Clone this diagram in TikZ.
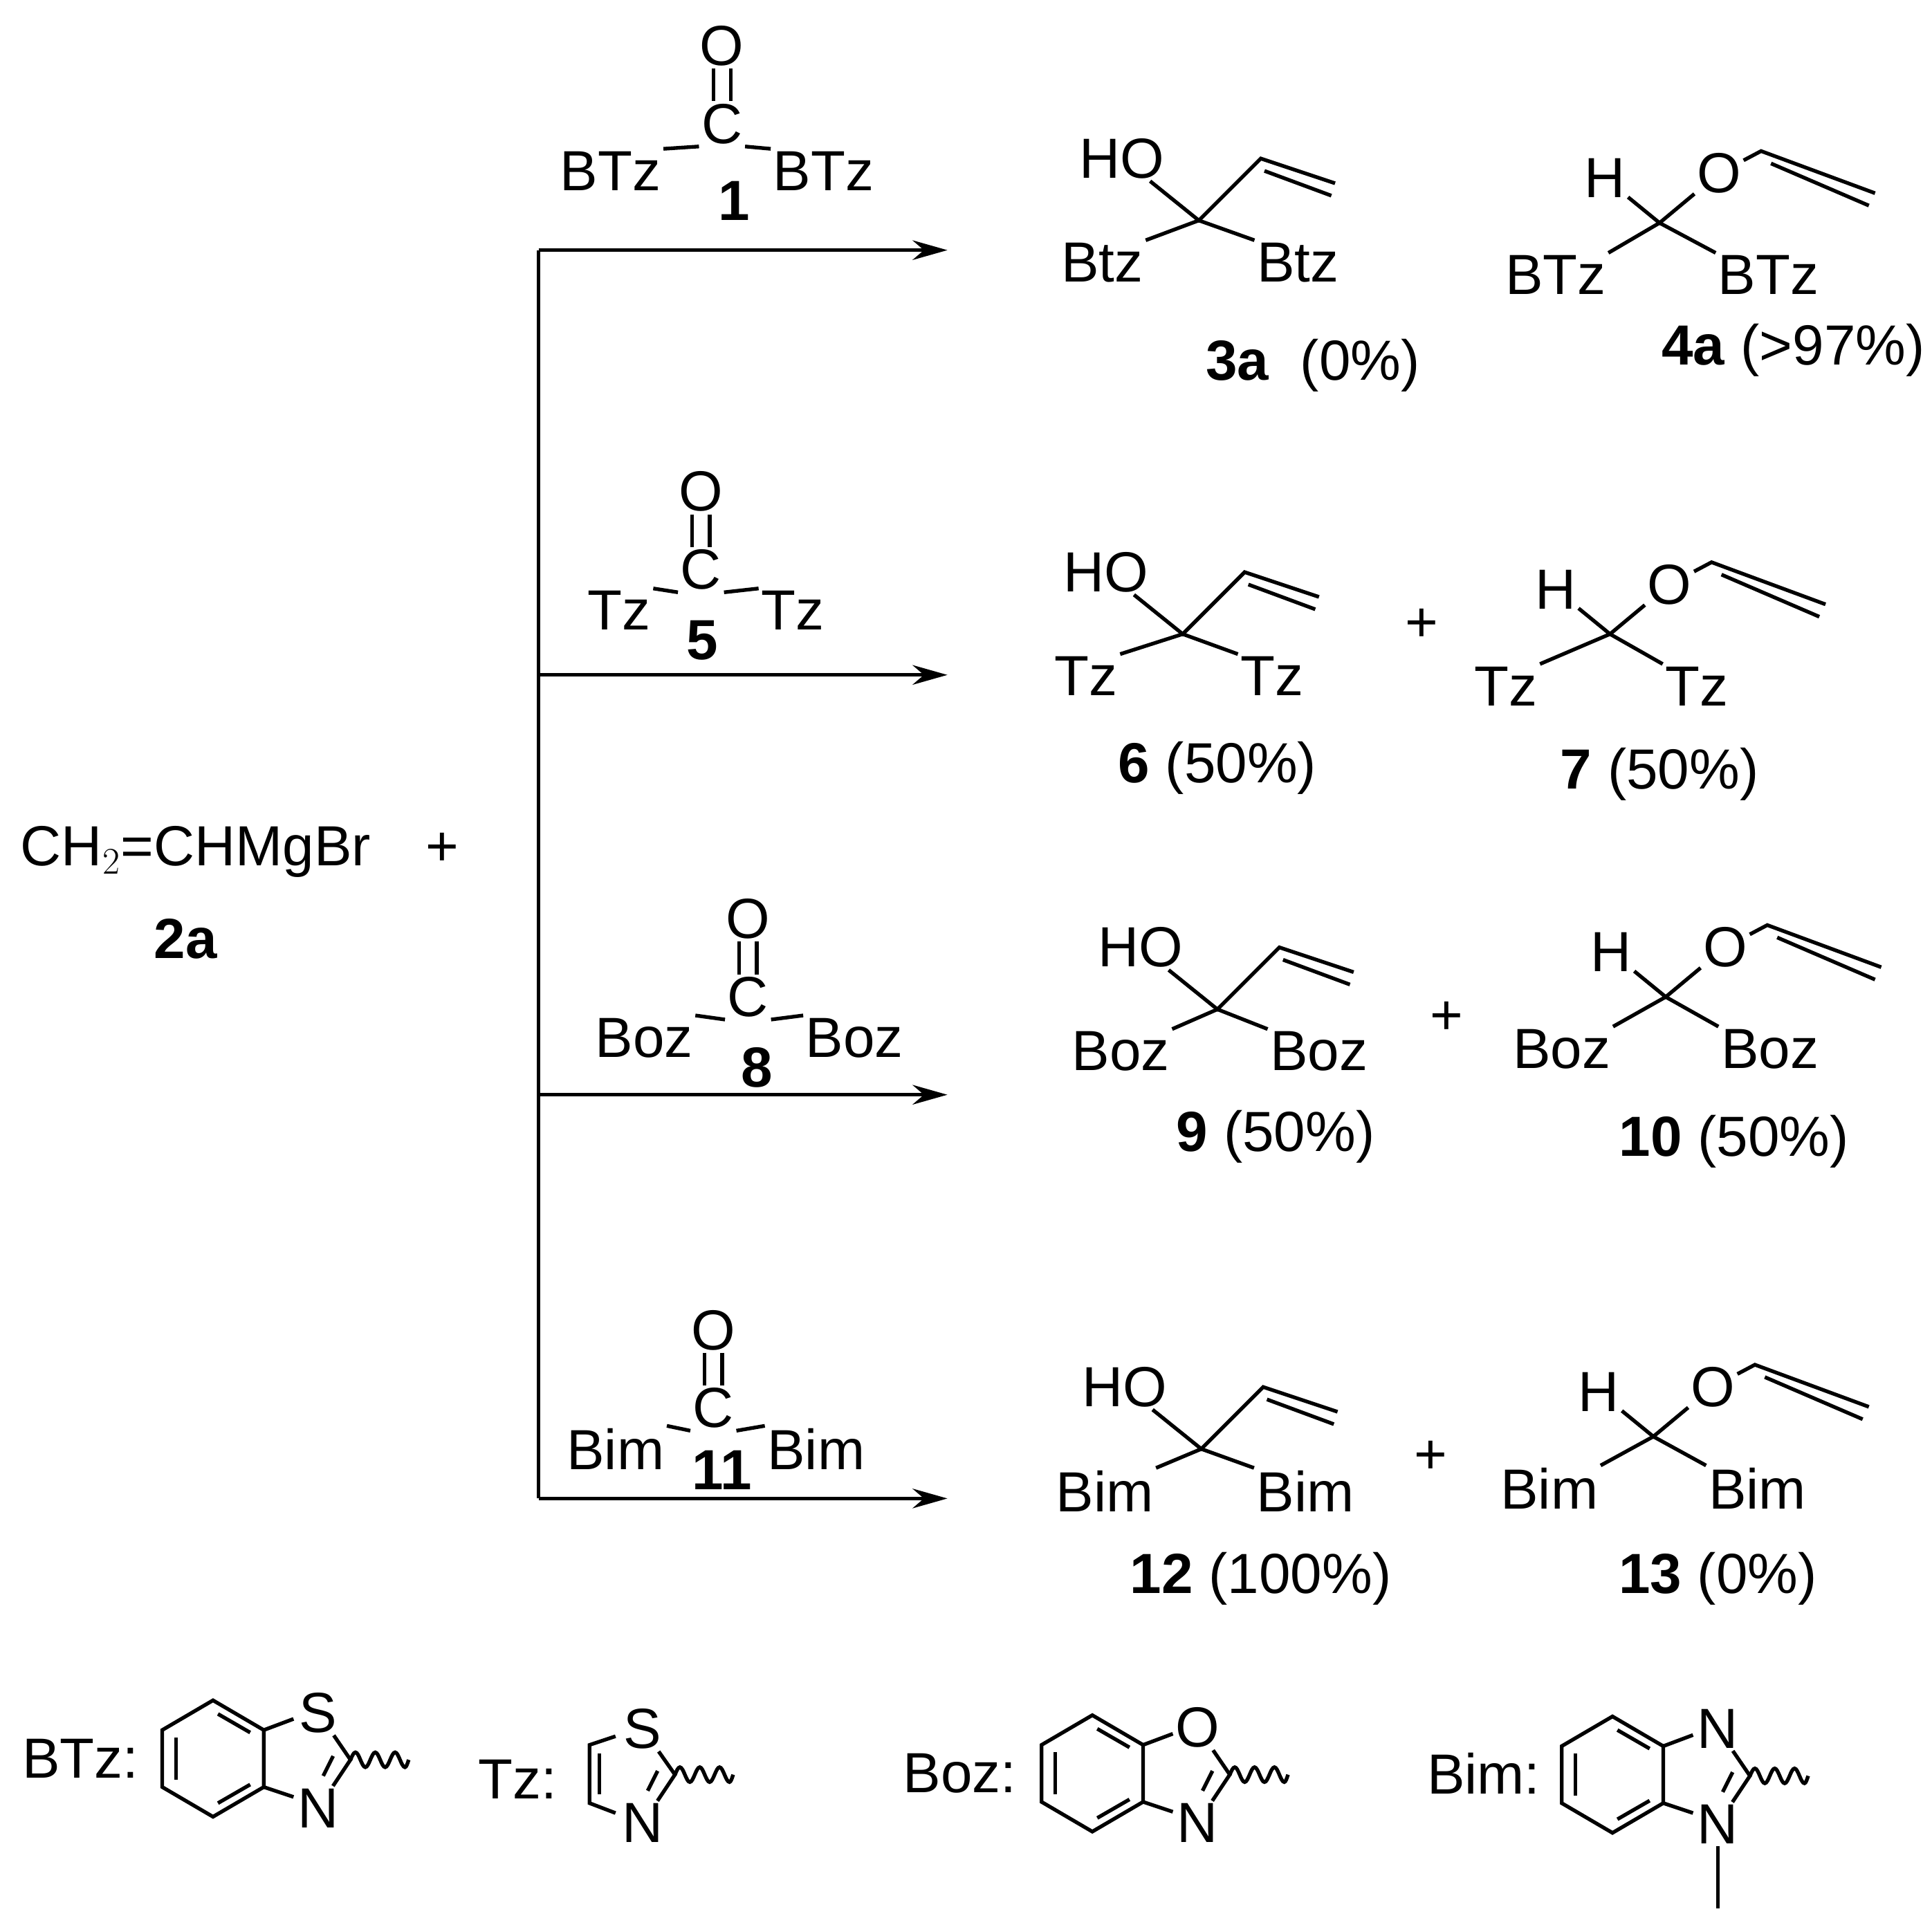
\documentclass[tikz,border=0pt]{standalone}
\usepackage{fontspec}
\setmainfont{Liberation Sans}
\usetikzlibrary{arrows.meta}
\tikzset{
 lbl/.style={inner sep=1pt,font=\fontsize{26}{30}\selectfont},
 bd/.style={line width=1.7pt},
 rxn/.style={line width=1.7pt,-{Stealth[length=16pt,width=9pt]}},
}
\newcommand{\wavy}[1]{\draw[bd] (#1) sin ++(4,-6) cos ++(4,6) sin ++(4,6) cos ++(4,-6) sin ++(4,-6) cos ++(4,6) sin ++(4,6) cos ++(4,-6) sin ++(4,-6) cos ++(4,6) sin ++(4,6) cos ++(3,-6);}
% fused benzazole, origin = benzene centre
\newcommand{\benzaz}[4]{%
 \begin{scope}[shift={(#1)}]
 \draw[bd] (0,-47)--(-41,-23)--(-41,23)--(0,47)--(41,23)--(41,-23)--cycle;
 \draw[bd] (-30,-17)--(-30,17);
 \draw[bd] (4,-36)--(30,-21);
 \draw[bd] (4,36)--(30,21);
 \node[lbl] (#2t) at (85,-37) {#3};
 \node[lbl] (#2b) at (85,40) {#4};
 \coordinate (#2c) at (111,1);
 \draw[bd] (41,-23)--(65,-32);
 \draw[bd] (41,23)--(65,31);
 \draw[bd] (#2t) -- (#2c) -- (#2b);
 \draw[bd] (97,-2)--(89,14);
 \wavy{#2c}
 \end{scope}}
% reagent
\newcommand{\reag}[9]{% pos, name, label, Lx, Ly, Rx, number, nx, ny
 \begin{scope}[shift={(#1)}]
 \node[lbl] (#2C) at (0,0) {C};
 \node[lbl] (#2O) at (0,-63) {O};
 \draw[bd] ([xshift=-4]#2O.south) -- ([xshift=-4]#2C.north);
 \draw[bd] ([xshift=4]#2O.south) -- ([xshift=4]#2C.north);
 \node[lbl] (#2L) at (#4,#5) {#3};
 \node[lbl] (#2R) at (#6,#5) {#3};
 \node[lbl] (#2n) at (#8,#9) {\textbf{#7}};
 \draw[bd] (#2C.south west) -- (#2L.north east);
 \draw[bd] (#2C.south east) -- (#2R.north west);
 \end{scope}}
% alcohol product
\newcommand{\prodA}[4]{% pos, name, group, Rx
 \begin{scope}[shift={(#1)}]
 \coordinate (#2c) at (0,0);
 \node[lbl] (#2ho) at (-62,-50) {HO};
 \coordinate (#2v) at (50,-50);
 \coordinate (#2e) at (110,-30);
 \node[lbl] (#2l) at (-78,34) {#3};
 \node[lbl] (#2r) at (#4,34) {#3};
 \draw[bd] (#2ho) -- (#2c) -- (#2v) -- (#2e);
 \draw[bd] ($(#2v)+(3,10)$) -- ($(#2e)+(-3,10)$);
 \draw[bd] (#2l.north east) -- (#2c) -- (#2r.north west);
 \end{scope}}
\newcommand{\prodB}[4]{%
 \begin{scope}[shift={(#1)}]
 \coordinate (#2c) at (0,0);
 \node[lbl] (#2h) at (-44,-36) {H};
 \node[lbl] (#2o) at (48,-40) {O};
 \coordinate (#2v) at (82,-58);
 \coordinate (#2e) at (174,-24);
 \node[lbl] (#2l) at (-84,42) {#3};
 \node[lbl] (#2r) at (#4,42) {#3};
 \draw[bd] (#2h) -- (#2c) -- (#2o) -- (#2v) -- (#2e);
 \draw[bd] ($(#2v)+(8,10)$) -- ($(#2e)+(-5,10)$);
 \draw[bd] (#2l.north east) -- (#2c) -- (#2r.north west);
 \end{scope}}
\usetikzlibrary{calc}
\begin{document}
\begin{tikzpicture}[x=0.02cm,y=-0.02cm]
\useasboundingbox (0,0) rectangle (1560,1554);
\node[lbl] (sm) at (158,688) {CH$_2$=CHMgBr};
\node[lbl] (plus0) at (357,686) {+};
\node[lbl] (n2a) at (150,758) {\textbf{2a}};
% branching line
\coordinate (vt) at (435,202);
\coordinate (vb) at (435,1210);
\draw[bd] (vt) -- (vb);
\coordinate (a1) at (765,202); \coordinate (s2) at (435,545); \coordinate (a2) at (765,545);
\coordinate (s3) at (435,884); \coordinate (a3) at (765,884); \coordinate (a4) at (765,1210);
\draw[rxn] (vt) -- (a1);
\draw[rxn] (s2) -- (a2);
\draw[rxn] (s3) -- (a3);
\draw[rxn] (vb) -- (a4);
% reagents
\reag{583,100}{r1}{BTz}{-90}{38}{82}{1}{10}{62}
\reag{566,460}{r5}{Tz}{-66}{33}{74}{5}{1}{57}
\reag{604,805}{r8}{Boz}{-84}{33}{86}{8}{7}{57}
\reag{576,1137}{r11}{Bim}{-79}{33}{83}{11}{7}{50}
% products
\prodA{968,178}{p3}{Btz}{80}
\node[lbl] (n3) at (1060,295) {\textbf{3a}~~(0\%)};
\prodB{1340,180}{p4}{BTz}{88}
\node[lbl] (n4) at (1448,283) {\textbf{4a} (>97\%)};
\prodA{955,512}{p6}{Tz}{72}
\node[lbl] (n6) at (983,620) {\textbf{6} (50\%)};
\node[lbl] (pl2) at (1148,505) {+};
\prodB{1300,512}{p7}{Tz}{70}
\node[lbl] (n7) at (1340,625) {\textbf{7} (50\%)};
\prodA{983,815}{p9}{Boz}{82}
\node[lbl] (n9) at (1030,918) {\textbf{9} (50\%)};
\node[lbl] (pl3) at (1168,822) {+};
\prodB{1345,805}{p10}{Boz}{84}
\node[lbl] (n10) at (1400,922) {\textbf{10} (50\%)};
\prodA{970,1170}{p12}{Bim}{84}
\node[lbl] (n12) at (1018,1275) {\textbf{12} (100\%)};
\node[lbl] (pl4) at (1155,1177) {+};
\prodB{1335,1160}{p13}{Bim}{84}
\node[lbl] (n13) at (1387,1275) {\textbf{13} (0\%)};
% legend
\node[lbl] (kb) at (65,1420) {BTz:};
\benzaz{172,1420}{btz}{S}{N}
\node[lbl] (kt) at (418,1437) {Tz:};
\begin{scope}[shift={(545,1433)}]
 \coordinate (tzc) at (0,0);
 \node[lbl] (tzs) at (-26,-37) {S};
 \node[lbl] (tzn) at (-26,39) {N};
 \coordinate (tz5) at (-69,-24);
 \coordinate (tz4) at (-69,23);
 \draw[bd] (tzs) -- (tzc) -- (tzn);
 \draw[bd] (-48,-31) -- (tz5) -- (tz4) -- (-48,31);
 \draw[bd] (-61,-17) -- (-61,16);
 \draw[bd] (-14,-3) -- (-22,13);
 \wavy{tzc}
\end{scope}
\node[lbl] (kz) at (775,1432) {Boz:};
\benzaz{882,1432}{boz}{O}{N}
\node[lbl] (ki) at (1198,1432) {Bim:};
\benzaz{1302,1433}{bim}{N}{N}
\coordinate (me) at (1387,1541);
\draw[bd] (bimb) -- (me);
\end{tikzpicture}
\end{document}
